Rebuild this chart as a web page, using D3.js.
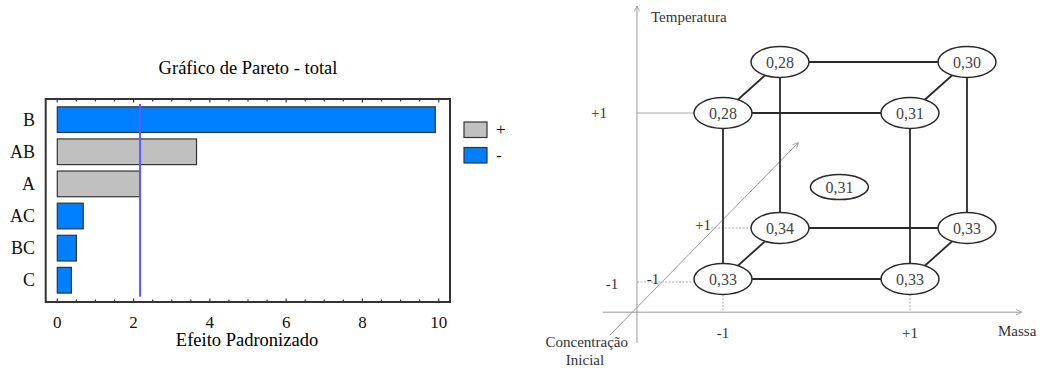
<!DOCTYPE html>
<meta charset="utf-8">
<script src="https://d3js.org/d3.v7.min.js"></script>
<style type="text/css">
body { margin: 0; background: #fff; }
svg { display: block; }
svg text { font-family: "Liberation Serif", "Times New Roman", Times, "DejaVu Serif", serif; }
.frame { fill: none; stroke: #333; stroke-width: 2px; }
.bar { stroke: #333; stroke-width: 1.2px; }
.tickLabel, .catLabel { font-size: 17px; fill: #111; }
.cubeEdge { stroke: #2a2a2a; stroke-width: 1.8px; }
.node ellipse { fill: #fff; stroke: #2a2a2a; stroke-width: 1.5px; }
.node text { font-size: 16px; fill: #444; }
.axisLine { stroke: #999; stroke-width: 1px; fill: none; }
.guide { stroke: #aaa; stroke-width: 1px; }
.dotted { stroke-dasharray: 2px 1.5px; }
.cubeLabel { font-size: 15px; fill: #333; }
</style>
<body></body>
<script>

// pareto data
var factors = ['B', 'AB', 'A', 'AC', 'BC', 'C'];
var effects = [9.91, 3.65, 2.16, 0.68, 0.50, 0.37];
var signs = ['-', '+', '+', '-', '-', '-'];
var critical = 2.17;
var xTicks = [0, 2, 4, 6, 8, 10];
var legendSigns = ['+', '-'];

// cube data (massa, temperatura, concentracao)
var cubeMassa = [-1, 1, -1, 1, -1, 1, -1, 1];
var cubeTemp = [-1, -1, -1, -1, 1, 1, 1, 1];
var cubeConc = [-1, -1, 1, 1, -1, -1, 1, 1];
var cubeResp = ['0,33', '0,33', '0,34', '0,33', '0,28', '0,31', '0,28', '0,30'];
var centerPoint = [-0.06, -0.2, 0, '0,31'];

var colors = {'+': '#c0c0c0', '-': '#0080ff'};

var svg = d3.select('body').append('svg')
  .attr('width', 1043)
  .attr('height', 370);

// ---------- pareto chart ----------
var xScale = d3.scaleLinear()
  .domain([0, 10])
  .range([57.3, 438.7]);

var yScale = d3.scaleBand()
  .domain(factors)
  .range([103.6, 296.3])
  .paddingInner(0.2)
  .paddingOuter(0.1);

var frame = {left: 45.7, top: 99, right: 450, bottom: 302};

svg.append('text')
  .attr('x', 248)
  .attr('y', 74)
  .attr('text-anchor', 'middle')
  .style('font-size', '18.5px')
  .text('Gráfico de Pareto - total');

svg.append('rect')
  .attr('class', 'frame')
  .attr('x', frame.left)
  .attr('y', frame.top)
  .attr('width', frame.right - frame.left)
  .attr('height', frame.bottom - frame.top);

// minor/major inward ticks top and bottom
var tickVals = d3.range(0, 10.01, 0.5);
svg.append('g').selectAll('line')
  .data(tickVals).enter().append('line')
  .attr('x1', function(d) { return xScale(d); })
  .attr('x2', function(d) { return xScale(d); })
  .attr('y1', frame.bottom)
  .attr('y2', function(d) { return frame.bottom - (d % 2 == 0 ? 3.5 : 2.5); })
  .attr('stroke', '#333').attr('stroke-width', 1.2);
svg.append('g').selectAll('line')
  .data(tickVals).enter().append('line')
  .attr('x1', function(d) { return xScale(d); })
  .attr('x2', function(d) { return xScale(d); })
  .attr('y1', frame.top)
  .attr('y2', function(d) { return frame.top + (d % 2 == 0 ? 3.5 : 2.5); })
  .attr('stroke', '#333').attr('stroke-width', 1.2);

svg.append('g').selectAll('text')
  .data(xTicks).enter().append('text')
  .attr('class', 'tickLabel')
  .attr('x', function(d) { return xScale(d); })
  .attr('y', 327.5)
  .attr('text-anchor', 'middle')
  .text(function(d) { return d; });

svg.append('text')
  .attr('x', 247)
  .attr('y', 345.5)
  .attr('text-anchor', 'middle')
  .style('font-size', '18.5px')
  .text('Efeito Padronizado');

svg.append('g').selectAll('rect')
  .data(factors).enter().append('rect')
  .attr('class', 'bar')
  .attr('x', xScale(0))
  .attr('y', function(d) { return yScale(d); })
  .attr('width', function(d, i) { return xScale(effects[i]) - xScale(0); })
  .attr('height', yScale.bandwidth())
  .attr('fill', function(d, i) { return colors[signs[i]]; });

svg.append('g').selectAll('text')
  .data(factors).enter().append('text')
  .attr('class', 'catLabel')
  .attr('x', 35)
  .attr('y', function(d) { return yScale(d) + yScale.bandwidth() / 2 + 6; })
  .attr('text-anchor', 'end')
  .style('font-size', '18px')
  .text(function(d) { return d; });

svg.append('line')
  .attr('x1', xScale(critical))
  .attr('x2', xScale(critical))
  .attr('y1', 104)
  .attr('y2', 296.7)
  .attr('stroke', '#5c5cff')
  .attr('stroke-width', 2);

// legend
var legend = svg.append('g').selectAll('g')
  .data(legendSigns).enter().append('g')
  .attr('transform', function(d, i) { return 'translate(464,' + (122 + i * 25.5) + ')'; });
legend.append('rect')
  .attr('width', 23)
  .attr('height', 15.5)
  .attr('fill', function(d) { return colors[d]; })
  .attr('stroke', '#333')
  .attr('stroke-width', 1.2);
legend.append('text')
  .attr('x', 32)
  .attr('y', 13)
  .style('font-size', '17px')
  .text(function(d) { return d; });

// ---------- cube plot ----------
var xMassa = d3.scaleLinear().domain([-1, 1]).range([723, 910]);
var yTemp = d3.scaleLinear().domain([-1, 1]).range([279, 113]);
var dxConc = d3.scaleLinear().domain([-1, 1]).range([0, 57]);
var dyConc = d3.scaleLinear().domain([-1, 1]).range([0, -51]);

function px(m, c) { return xMassa(m) + dxConc(c); }
function py(t, c) { return yTemp(t) + dyConc(c); }

var nodes = cubeResp.map(function(r, i) {
  return {m: cubeMassa[i], t: cubeTemp[i], c: cubeConc[i], r: r};
});
var rx = 29, ry = 15.5;

// axes
var axisX = xMassa(-1.92), axisY = yTemp(-1.4);
var defs = svg.append('defs');
defs.append('marker')
  .attr('id', 'arr')
  .attr('viewBox', '0 0 10 10')
  .attr('refX', 9).attr('refY', 5)
  .attr('markerWidth', 7).attr('markerHeight', 7)
  .attr('orient', 'auto')
  .append('path')
  .attr('d', 'M1,1 L9,5 L1,9')
  .attr('fill', 'none')
  .attr('stroke', '#888')
  .attr('stroke-width', 1);

svg.append('line').attr('class', 'axisLine')
  .attr('x1', axisX).attr('x2', axisX)
  .attr('y1', 343).attr('y2', 6)
  .attr('marker-end', 'url(#arr)');
svg.append('line').attr('class', 'axisLine')
  .attr('x1', 602.7).attr('x2', 1021.7)
  .attr('y1', axisY).attr('y2', axisY)
  .attr('marker-end', 'url(#arr)');
svg.append('line').attr('class', 'axisLine')
  .attr('x1', 610).attr('x2', 798.3)
  .attr('y1', 335).attr('y2', 142.7)
  .attr('marker-end', 'url(#arr)');

// guide lines
svg.append('line').attr('class', 'guide')
  .attr('x1', axisX).attr('x2', xMassa(-1) - rx)
  .attr('y1', yTemp(1)).attr('y2', yTemp(1));
svg.append('line').attr('class', 'guide dotted')
  .attr('x1', axisX).attr('x2', xMassa(-1) - rx)
  .attr('y1', yTemp(-1) + 3).attr('y2', yTemp(-1) + 3);
svg.append('line').attr('class', 'guide dotted')
  .attr('x1', px(-1, 1) - rx - 40).attr('x2', px(-1, 1) - rx)
  .attr('y1', py(-1, 1)).attr('y2', py(-1, 1));
[-1, 1].forEach(function(m) {
  svg.append('line').attr('class', 'guide dotted')
    .attr('x1', xMassa(m)).attr('x2', xMassa(m))
    .attr('y1', yTemp(-1) + ry).attr('y2', axisY);
});

// cube edges
var edges = [];
nodes.forEach(function(a, i) {
  nodes.forEach(function(b, j) {
    var diff = (a.m != b.m) + (a.t != b.t) + (a.c != b.c);
    if (j > i && diff == 1) edges.push([a, b]);
  });
});
svg.append('g').selectAll('line')
  .data(edges).enter().append('line')
  .attr('class', 'cubeEdge')
  .attr('stroke-width', function(d) { return d[0].t != d[1].t ? 1.4 : 1.8; })
  .attr('x1', function(d) { return px(d[0].m, d[0].c); })
  .attr('y1', function(d) { return py(d[0].t, d[0].c); })
  .attr('x2', function(d) { return px(d[1].m, d[1].c); })
  .attr('y2', function(d) { return py(d[1].t, d[1].c); });

var allNodes = nodes.concat([{m: centerPoint[0], t: centerPoint[1], c: centerPoint[2], r: centerPoint[3], center: true}]);
var node = svg.append('g').selectAll('g')
  .data(allNodes).enter().append('g')
  .attr('class', 'node')
  .attr('transform', function(d) { return 'translate(' + px(d.m, d.c) + ',' + py(d.t, d.c) + ')'; });
node.append('ellipse')
  .attr('rx', rx)
  .attr('ry', function(d) { return d.center ? 12.5 : ry; });
node.append('text')
  .attr('text-anchor', 'middle')
  .attr('dy', 5.5)
  .text(function(d) { return d.r; });

// cube labels
svg.append('text').attr('class', 'cubeLabel')
  .attr('x', axisX + 14).attr('y', 22)
  .text('Temperatura');
svg.append('text').attr('class', 'cubeLabel')
  .attr('x', 998).attr('y', 336)
  .text('Massa');
svg.append('text').attr('class', 'cubeLabel')
  .attr('x', 628).attr('y', 347)
  .attr('text-anchor', 'end')
  .text('Concentração');
svg.append('text').attr('class', 'cubeLabel')
  .attr('x', 585).attr('y', 365)
  .attr('text-anchor', 'middle')
  .text('Inicial');

svg.append('text').attr('class', 'cubeLabel')
  .attr('x', 599).attr('y', yTemp(1) + 5)
  .attr('text-anchor', 'middle').text('+1');
svg.append('text').attr('class', 'cubeLabel')
  .attr('x', 612).attr('y', yTemp(-1) + 10)
  .attr('text-anchor', 'middle').text('-1');
[-1, 1].forEach(function(m) {
  svg.append('text').attr('class', 'cubeLabel')
    .attr('x', xMassa(m)).attr('y', 338)
    .attr('text-anchor', 'middle').text(m > 0 ? '+1' : '-1');
});
svg.append('text').attr('class', 'cubeLabel')
  .attr('x', axisX + 16).attr('y', yTemp(-1) + 5)
  .attr('text-anchor', 'middle').text('-1');
svg.append('text').attr('class', 'cubeLabel')
  .attr('x', px(-1, 1) - rx - 48).attr('y', py(-1, 1) + 2)
  .attr('text-anchor', 'middle').text('+1');

</script>
